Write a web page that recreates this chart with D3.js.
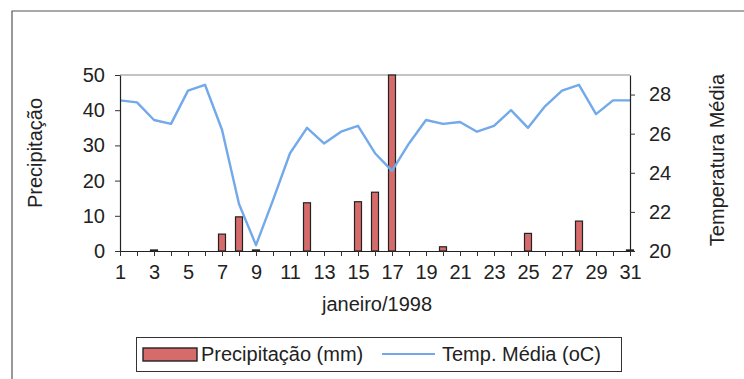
<!DOCTYPE html>
<html>
<head>
<meta charset="utf-8">
<script src="https://cdn.jsdelivr.net/npm/d3@7"></script>
<style>
  html, body { margin: 0; padding: 0; background: #fff; }
  svg { display: block; font-family: "Liberation Sans", Arial, sans-serif; }
</style>
</head>
<body>
<svg id="chart" width="744" height="379"></svg>
<script>
// Daily values for January 1998
const days = d3.range(1, 32);
const precipitation = [0, 0, 0.3, 0, 0, 0, 4.8, 9.7, 0.3, 0, 0, 13.7, 0, 0, 14.0, 16.7, 50,
                       0, 0, 1.2, 0, 0, 0, 0, 5.0, 0, 0, 8.5, 0, 0, 0.3];
const temperature = [27.7, 27.6, 26.7, 26.5, 28.2, 28.5, 26.2, 22.4, 20.3, 22.6, 25.0, 26.3,
                     25.5, 26.1, 26.4, 25.0, 24.1, 25.5, 26.7, 26.5, 26.6, 26.1, 26.4, 27.2,
                     26.3, 27.4, 28.2, 28.5, 27.0, 27.7, 27.7];
const precipTicks = [0, 10, 20, 30, 40, 50];
const tempTicks = [20, 22, 24, 26, 28];

const svg = d3.select("#chart");
const plotL = 120, plotR = 630, plotT = 75, plotB = 251;
const textColor = "#222";

const x = d3.scalePoint().domain(days).range([plotL, plotR]);
const yP = d3.scaleLinear().domain([0, 50]).range([plotB, plotT]);
const yT = d3.scaleLinear().domain([20, 29]).range([plotB, plotT]);

// outer frame (top and left edges)
svg.append("path")
  .attr("d", `M12,380 L12,11 L744,11`)
  .attr("fill", "none").attr("stroke", "#555").attr("stroke-width", 1.2);

// plot area border
svg.append("line")
  .attr("x1", plotL).attr("x2", plotR).attr("y1", plotT).attr("y2", plotT)
  .attr("stroke", "#888").attr("stroke-width", 1);

// precipitation bars
const barW = 7;
svg.append("g").selectAll("rect")
  .data(days.filter((d, i) => precipitation[i] > 0))
  .join("rect")
  .attr("x", d => x(d) - barW / 2)
  .attr("width", barW)
  .attr("y", d => yP(precipitation[d - 1]))
  .attr("height", d => plotB - yP(precipitation[d - 1]))
  .attr("fill", "#d66b6b")
  .attr("stroke", "#222")
  .attr("stroke-width", 1.2);

// mean temperature line
const line = d3.line().x((d, i) => x(days[i])).y(d => yT(d));
svg.append("path")
  .datum(temperature)
  .attr("d", line)
  .attr("fill", "none")
  .attr("stroke", "#72a9ea")
  .attr("stroke-width", 2.4)
  .attr("stroke-linejoin", "round");

// axes
const axisFont = g => g.selectAll("text")
  .attr("font-family", "Liberation Sans, Arial, sans-serif")
  .attr("font-size", 20).attr("fill", textColor);

const gx = svg.append("g").attr("transform", `translate(0,${plotB})`)
  .call(d3.axisBottom(x).tickValues(days).tickSizeInner(5).tickSizeOuter(0)
        .tickFormat(d => d % 2 === 1 ? d : ""));
gx.selectAll("text").attr("dy", "1.0em");
gx.call(axisFont);

const gl = svg.append("g").attr("transform", `translate(${plotL},0)`)
  .call(d3.axisLeft(yP).tickValues(precipTicks).tickSizeInner(5).tickSizeOuter(0).tickPadding(10));
gl.call(axisFont);

const gr = svg.append("g").attr("transform", `translate(${plotR},0)`)
  .call(d3.axisRight(yT).tickValues(tempTicks).tickSizeInner(5).tickSizeOuter(0).tickPadding(14));
gr.call(axisFont);

svg.selectAll(".domain").attr("stroke", "#222").attr("stroke-width", 1.2);
svg.selectAll(".tick line").attr("stroke", "#333");

// axis titles
svg.append("text")
  .attr("transform", "translate(42,153) rotate(-90)")
  .attr("text-anchor", "middle").attr("font-size", 20).attr("fill", textColor)
  .text("Precipitação");
svg.append("text")
  .attr("transform", "translate(724,160) rotate(-90)")
  .attr("text-anchor", "middle").attr("font-size", 20).attr("fill", textColor)
  .text("Temperatura Média");
svg.append("text")
  .attr("x", 377).attr("y", 311)
  .attr("text-anchor", "middle").attr("font-size", 20).attr("fill", textColor)
  .text("janeiro/1998");

// legend
const lg = svg.append("g");
lg.append("rect")
  .attr("x", 136.5).attr("y", 337.5).attr("width", 485).attr("height", 34)
  .attr("fill", "#fff").attr("stroke", "#333").attr("stroke-width", 1);
lg.append("rect")
  .attr("x", 143).attr("y", 348).attr("width", 54).attr("height", 13)
  .attr("fill", "#d66b6b").attr("stroke", "#222").attr("stroke-width", 1.4);
lg.append("text")
  .attr("x", 201).attr("y", 361).attr("font-size", 20).attr("fill", textColor)
  .text("Precipitação (mm)");
lg.append("line")
  .attr("x1", 382).attr("x2", 435).attr("y1", 354).attr("y2", 354)
  .attr("stroke", "#72a9ea").attr("stroke-width", 2);
lg.append("text")
  .attr("x", 442).attr("y", 361).attr("font-size", 20).attr("fill", textColor)
  .text("Temp. Média (oC)");
</script>
</body>
</html>
